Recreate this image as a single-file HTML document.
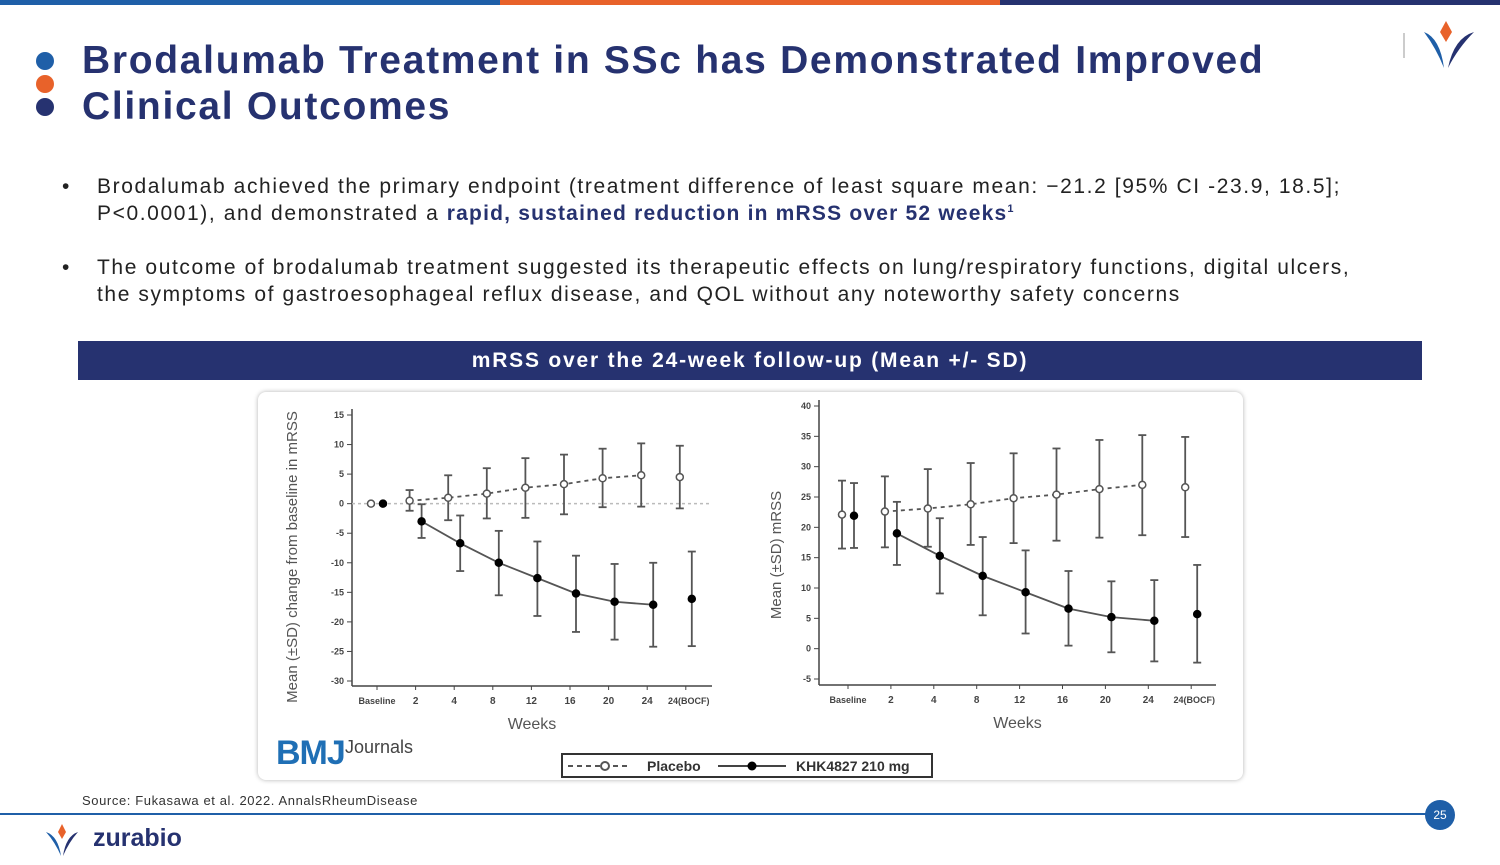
<!DOCTYPE html>
<html><head><meta charset="utf-8">
<style>
*{margin:0;padding:0;box-sizing:border-box}
body{width:1500px;height:865px;position:relative;background:#fff;font-family:"Liberation Sans",sans-serif;overflow:hidden}
.abs{position:absolute}
.title{left:82px;top:38px;font-size:39px;font-weight:bold;color:#263270;line-height:46px;letter-spacing:1.7px}
.bul{left:62px;font-size:21px;color:#222;line-height:27px}
.bul span.t{position:absolute;left:35px;letter-spacing:1.6px}
.dot{position:absolute;left:36px;width:18px;height:18px;border-radius:50%}
</style></head><body>
<div class="abs" style="left:0;top:0;width:500px;height:5px;background:#1f5fa8"></div>
<div class="abs" style="left:500px;top:0;width:500px;height:5px;background:#e8622a"></div>
<div class="abs" style="left:1000px;top:0;width:500px;height:5px;background:#263270"></div>
<div class="dot" style="top:52px;background:#1f5fa8"></div>
<div class="dot" style="top:75px;background:#e8622a"></div>
<div class="dot" style="top:98px;background:#263270"></div>
<div class="abs title">Brodalumab Treatment in SSc has Demonstrated Improved<br>Clinical Outcomes</div>
<svg class="abs" style="left:1400px;top:18px" width="80" height="55">
<line x1="4" y1="15" x2="4" y2="40" stroke="#999" stroke-width="1"/>
<path d="M46 3 L52 14 L46 24 L40 14Z" fill="#e8622a"/>
<path d="M24 14 Q40 20 44 50 Q36 30 24 14Z" fill="#1f5fa8"/>
<path d="M74 14 Q54 20 48 50 Q58 30 74 14Z" fill="#263270"/>
</svg>
<div class="abs bul" style="top:173px;width:1400px">•<span class="t" style="width:1280px">Brodalumab achieved the primary endpoint (treatment difference of least square mean: −21.2 [95% CI -23.9, 18.5]; P&lt;0.0001), and demonstrated a <b style="color:#263270;letter-spacing:1.2px">rapid, sustained reduction in mRSS over 52 weeks<sup style="font-size:11px;line-height:0">1</sup></b></span></div>
<div class="abs bul" style="top:254px;width:1400px">•<span class="t" style="width:1290px">The outcome of brodalumab treatment suggested its therapeutic effects on lung/respiratory functions, digital ulcers, the symptoms of gastroesophageal reflux disease, and QOL without any noteworthy safety concerns</span></div>
<div class="abs" style="left:78px;top:341px;width:1344px;height:39px;background:#263270;color:#fff;font-weight:bold;font-size:21px;text-align:center;line-height:39px;letter-spacing:1.8px">mRSS over the 24-week follow-up (Mean +/- SD)</div>
<div class="abs" style="left:258px;top:392px;width:985px;height:388px;border-radius:8px;box-shadow:0 0 5px rgba(0,0,0,0.3);background:#fff"></div>
<svg id="charts" class="abs" style="left:0;top:0" width="1500" height="865"></svg>
<div class="abs" style="left:82px;top:793px;font-size:13px;color:#333;letter-spacing:0.6px">Source: Fukasawa et al. 2022. AnnalsRheumDisease</div>
<div class="abs" style="left:0;top:813px;width:1440px;height:1.5px;background:#1f5fa8"></div>
<div class="abs" style="left:1425px;top:800px;width:30px;height:30px;border-radius:50%;background:#1f5fa8;color:#fff;font-size:12px;text-align:center;line-height:30px">25</div>
<svg class="abs" style="left:44px;top:824px" width="36" height="34">
<path d="M18 0 L22 8 L18 15 L14 8Z" fill="#e8622a"/>
<path d="M2 8 Q14 12 17 32 Q11 18 2 8Z" fill="#1f5fa8"/>
<path d="M34 8 Q22 12 19 32 Q25 18 34 8Z" fill="#263270"/>
</svg>
<div class="abs" style="left:93px;top:824px;font-size:25px;font-weight:bold;color:#263270">zurabio</div>
<div class="abs" style="left:276px;top:734px;font-size:34px;font-weight:bold;color:#1f6fb5;letter-spacing:-1px">BMJ</div>
<div class="abs" style="left:345px;top:737px;font-size:18px;color:#444">Journals</div>
<script>
const categories=["Baseline","2","4","8","12","16","20","24","24(BOCF)"];
const leftTicks=[15,10,5,0,-5,-10,-15,-20,-25,-30];
const leftPlaceboMean=[0,0.5,1.0,1.7,2.7,3.3,4.3,4.8,4.5];
const leftPlaceboLo=[0,-1.2,-2.8,-2.5,-2.4,-1.8,-0.6,-0.5,-0.8];
const leftPlaceboHi=[0,2.3,4.8,6.0,7.7,8.3,9.3,10.2,9.8];
const leftDrugMean=[0,-3.0,-6.7,-10.0,-12.6,-15.2,-16.6,-17.1,-16.1];
const leftDrugLo=[0,-5.8,-11.4,-15.5,-19.0,-21.7,-23.0,-24.2,-24.1];
const leftDrugHi=[0,-0.1,-2.0,-4.6,-6.4,-8.8,-10.2,-10.0,-8.1];
const rightTicks=[40,35,30,25,20,15,10,5,0,-5];
const rightPlaceboMean=[22.1,22.6,23.1,23.8,24.8,25.4,26.3,27.0,26.6];
const rightPlaceboLo=[16.5,16.7,16.8,17.1,17.4,17.8,18.3,18.7,18.4];
const rightPlaceboHi=[27.7,28.4,29.6,30.6,32.2,33.0,34.4,35.2,34.9];
const rightDrugMean=[21.9,19.0,15.3,12.0,9.3,6.6,5.2,4.6,5.7];
const rightDrugLo=[16.6,13.8,9.1,5.5,2.5,0.5,-0.6,-2.1,-2.3];
const rightDrugHi=[27.3,24.2,21.5,18.4,16.2,12.8,11.1,11.3,13.8];

const svg=document.getElementById('charts');
const NS='http://www.w3.org/2000/svg';
function mk(tag,attrs,name){const e=document.createElementNS(NS,tag);for(const k in attrs)e.setAttribute(k,attrs[k]);


svg.appendChild(e);return e;}
function drawChart(cfg){
 const y=v=>cfg.y0-(v-cfg.vmin)*(cfg.y0-cfg.y1)/(cfg.vmax-cfg.vmin);
 const x=i=>cfg.x0+i*cfg.step;
 mk('line',{x1:cfg.ax,y1:cfg.y1-6,x2:cfg.ax,y2:cfg.axY,stroke:'#444','stroke-width':1.5},'y-axis');
 mk('line',{x1:cfg.ax,y1:cfg.axY,x2:cfg.axEnd,y2:cfg.axY,stroke:'#444','stroke-width':1.5},'x-axis');
 cfg.ticks.forEach(t=>{mk('line',{x1:cfg.ax-5,y1:y(t),x2:cfg.ax,y2:y(t),stroke:'#444'},'y-tick');
  const tx=mk('text',{x:cfg.ax-8,y:y(t)+3,'font-size':9,'font-weight':'bold','text-anchor':'end',fill:'#444'},'y-tick-label');tx.textContent=t;});
 categories.forEach((c,i)=>{mk('line',{x1:x(i),y1:cfg.axY,x2:x(i),y2:cfg.axY+4,stroke:'#444'},'x-tick');
  const tx=mk('text',{x:x(i)+(i==8?3:0),y:cfg.axY+18,'font-size':i==0||i==8?9:10,'font-weight':'bold','text-anchor':'middle',fill:'#444'},'x-tick-label');tx.textContent=c;});
 const xt=mk('text',{x:(cfg.ax+cfg.axEnd)/2,y:cfg.axY+43,'font-size':16,'text-anchor':'middle',fill:'#555'},'x-axis-title');xt.textContent='Weeks';
 const yt=mk('text',{x:0,y:0,'font-size':15,'text-anchor':'middle',fill:'#555',transform:`translate(${cfg.ytX},${cfg.ytY}) rotate(-90)`},'y-axis-title');yt.textContent=cfg.ytitle;
 if(cfg.ref!==undefined)mk('line',{x1:cfg.ax,y1:y(cfg.ref),x2:cfg.axEnd,y2:y(cfg.ref),stroke:'#bbb','stroke-dasharray':'3,3','stroke-width':1.5},'reference-line');
 const series=[{m:cfg.pm,lo:cfg.pl,hi:cfg.ph,off:-6,dash:'4,4',fill:'#fff',name:'placebo'},{m:cfg.dm,lo:cfg.dl,hi:cfg.dh,off:6,dash:null,fill:'#000',name:'drug'}];
 series.forEach(s=>{
  let d='';for(let i=1;i<8;i++)d+=(i==1?'M':'L')+(x(i)+s.off)+' '+y(s.m[i]);
  const a={d:d,fill:'none',stroke:'#555','stroke-width':1.8};if(s.dash)a['stroke-dasharray']=s.dash;
  mk('path',a,s.name+'-line');
  s.m.forEach((v,i)=>{const px=x(i)+s.off;
   if(s.hi[i]!==s.lo[i]){mk('line',{x1:px,y1:y(s.lo[i]),x2:px,y2:y(s.hi[i]),stroke:'#555','stroke-width':1.8},s.name+'-errorbar');
   mk('line',{x1:px-4,y1:y(s.lo[i]),x2:px+4,y2:y(s.lo[i]),stroke:'#555','stroke-width':1.8},s.name+'-errorcap');
   mk('line',{x1:px-4,y1:y(s.hi[i]),x2:px+4,y2:y(s.hi[i]),stroke:'#555','stroke-width':1.8},s.name+'-errorcap');}
   mk('circle',{cx:px,cy:y(v),r:3.5,fill:s.fill,stroke:s.name=='drug'?'#000':'#555','stroke-width':1.5},s.name+'-point');});
 });
}
drawChart({vmin:-30,vmax:15,y0:681,y1:415,x0:377,step:38.6,ax:352,axY:686,axEnd:712,ticks:leftTicks,ref:0,
 pm:leftPlaceboMean,pl:leftPlaceboLo,ph:leftPlaceboHi,dm:leftDrugMean,dl:leftDrugLo,dh:leftDrugHi,
 ytitle:'Mean (±SD) change from baseline in mRSS',ytX:297,ytY:557});
drawChart({vmin:-5,vmax:40,y0:679,y1:406,x0:848,step:42.9,ax:819,axY:685,axEnd:1216,ticks:rightTicks,
 pm:rightPlaceboMean,pl:rightPlaceboLo,ph:rightPlaceboHi,dm:rightDrugMean,dl:rightDrugLo,dh:rightDrugHi,
 ytitle:'Mean (±SD) mRSS',ytX:781,ytY:555});
mk('rect',{x:562,y:754,width:370,height:23,fill:'#fff',stroke:'#333','stroke-width':2},'legend-box');
mk('line',{x1:568,y1:766,x2:628,y2:766,stroke:'#555','stroke-width':2,'stroke-dasharray':'5,4'},'legend-placebo-line');
mk('circle',{cx:605,cy:766,r:4,fill:'#fff',stroke:'#555','stroke-width':2},'legend-placebo-marker');
const l1=mk('text',{x:647,y:771,'font-size':14,'font-weight':'bold',fill:'#333'},'legend-placebo-label');l1.textContent='Placebo';
mk('line',{x1:718,y1:766,x2:786,y2:766,stroke:'#444','stroke-width':2},'legend-drug-line');
mk('circle',{cx:752,cy:766,r:4.5,fill:'#000'},'legend-drug-marker');
const l2=mk('text',{x:796,y:771,'font-size':14,'font-weight':'bold',fill:'#333'},'legend-drug-label');l2.textContent='KHK4827 210 mg';
</script>
</body></html>
